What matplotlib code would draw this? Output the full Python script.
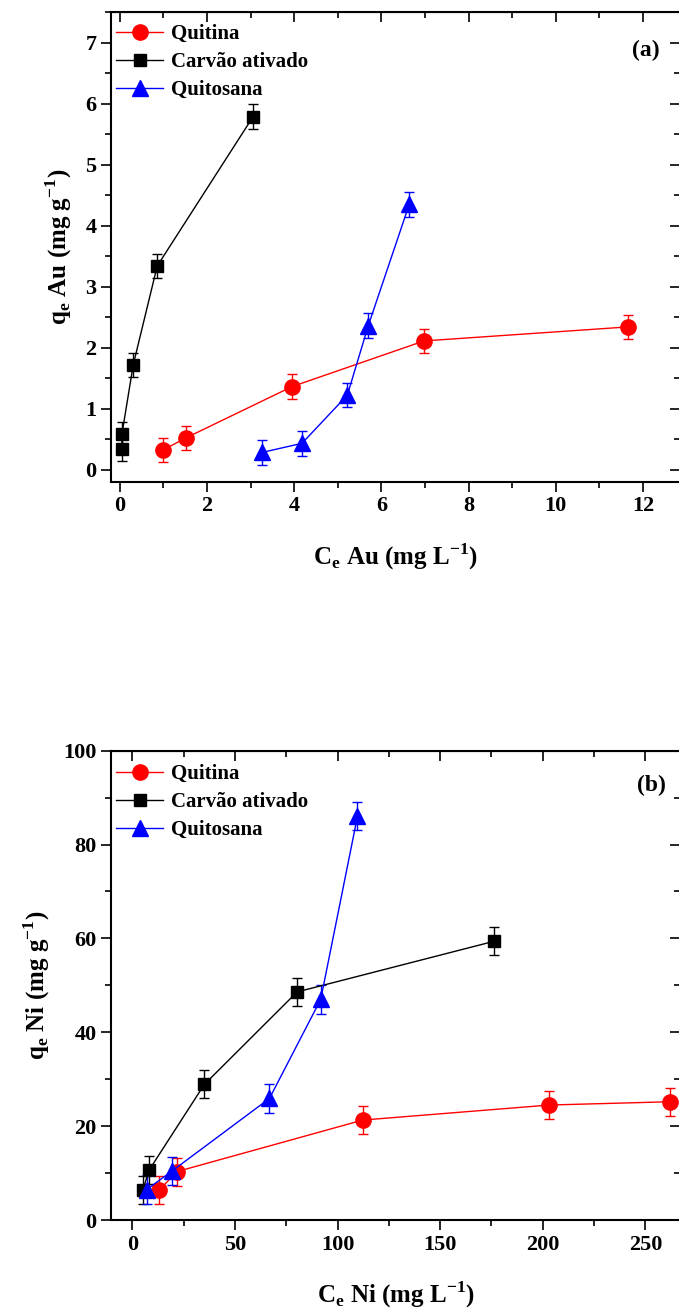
import matplotlib
matplotlib.use("Agg")
import matplotlib.pyplot as plt
from matplotlib.ticker import MultipleLocator

plt.rcParams['font.family'] = ['Liberation Serif', 'DejaVu Serif']
plt.rcParams['font.weight'] = 'bold'
plt.rcParams['axes.labelweight'] = 'bold'
plt.rcParams['mathtext.fontset'] = 'custom'
plt.rcParams['mathtext.rm'] = 'Liberation Serif:bold'

labels = ["Quitina", "Carvão ativado", "Quitosana"]
colors = ["#ff0000", "#000000", "#0000ff"]
markers = ["o", "s", "^"]
msizes = [11, 9, 11]

# (a) Au
au_x = [
    [0.99, 1.52, 3.95, 6.98, 11.66],
    [0.05, 0.05, 0.31, 0.86, 3.06],
    [3.26, 4.18, 5.22, 5.70, 6.64],
]
au_y = [
    [0.32, 0.52, 1.36, 2.11, 2.34],
    [0.34, 0.58, 1.72, 3.34, 5.79],
    [0.28, 0.43, 1.22, 2.36, 4.35],
]
au_err = [
    [0.2, 0.2, 0.2, 0.2, 0.2],
    [0.2, 0.2, 0.2, 0.2, 0.2],
    [0.2, 0.2, 0.2, 0.2, 0.2],
]

# (b) Ni
ni_x = [
    [13.2, 21.6, 112.3, 203.1, 262.0],
    [5.1, 8.1, 35.1, 80.3, 176.4],
    [7.0, 19.2, 66.8, 91.8, 109.7],
]
ni_y = [
    [6.4, 10.3, 21.3, 24.5, 25.2],
    [6.4, 10.6, 28.9, 48.6, 59.4],
    [6.5, 10.4, 25.9, 47.0, 86.0],
]
ni_err = [
    [3.0, 3.0, 3.0, 3.0, 3.0],
    [3.0, 3.0, 3.0, 3.0, 3.0],
    [3.0, 3.0, 3.0, 3.0, 3.0],
]

fig = plt.figure(figsize=(6.79, 13.13), dpi=100)
ax1 = fig.add_axes([0.1635, 0.6331, 0.838, 0.3575])
ax2 = fig.add_axes([0.1635, 0.0708, 0.838, 0.3575])


def draw(ax, xs, ys, errs):
    handles = []
    for x, y, e, c, m, ms in zip(xs, ys, errs, colors, markers, msizes):
        cont = ax.errorbar(x, y, yerr=e, color=c, marker=m, ms=ms, lw=1,
                           elinewidth=1, capsize=3.5, capthick=1)
        handles.append(cont[0])
    return handles


def style(ax, xmaj, xmin, ymaj, ymin):
    ax.xaxis.set_major_locator(MultipleLocator(xmaj))
    ax.xaxis.set_minor_locator(MultipleLocator(xmin))
    ax.yaxis.set_major_locator(MultipleLocator(ymaj))
    ax.yaxis.set_minor_locator(MultipleLocator(ymin))
    ax.tick_params(which='major', direction='out', length=7, width=1.2, labelsize=16)
    ax.tick_params(which='minor', direction='out', length=4, width=1.2)
    for s in ax.spines.values():
        s.set_linewidth(1.5)
    top = ax.secondary_xaxis('top')
    top.xaxis.set_major_locator(MultipleLocator(xmaj))
    top.xaxis.set_minor_locator(MultipleLocator(xmin))
    top.tick_params(which='major', direction='in', length=7, width=1.2, labeltop=False)
    top.tick_params(which='minor', direction='in', length=4, width=1.2)
    right = ax.secondary_yaxis('right')
    right.yaxis.set_major_locator(MultipleLocator(ymaj))
    right.yaxis.set_minor_locator(MultipleLocator(ymin))
    right.tick_params(which='major', direction='in', length=7, width=1.2, labelright=False)
    right.tick_params(which='minor', direction='in', length=4, width=1.2)


def add_legend(ax, handles, ytop):
    ax.legend(handles, labels, loc='upper left', bbox_to_anchor=(0.008, ytop),
              frameon=False, fontsize=15, handlelength=2.3, handletextpad=0.35,
              labelspacing=0.38, borderaxespad=0, borderpad=0)


h1 = draw(ax1, au_x, au_y, au_err)
ax1.set_xlim(-0.2, 12.85)
ax1.set_ylim(-0.2, 7.5)
style(ax1, 2, 1, 1, 0.5)
ax1.set_xlabel(r'C$_\mathregular{e}$ Au (mg L$^\mathregular{-1}$)', fontsize=18, labelpad=18)
ax1.set_ylabel(r'q$_\mathregular{e}$ Au (mg g$^\mathregular{-1}$)', fontsize=18, labelpad=8)
add_legend(ax1, h1, 0.975)
ax1.text(0.965, 0.918, '(a)', transform=ax1.transAxes, fontsize=17,
         ha='right', va='center')

h2 = draw(ax2, ni_x, ni_y, ni_err)
ax2.set_xlim(-10.4, 266.9)
ax2.set_ylim(0, 100)
style(ax2, 50, 25, 20, 10)
ax2.set_xlabel(r'C$_\mathregular{e}$ Ni (mg L$^\mathregular{-1}$)', fontsize=18, labelpad=18)
ax2.set_ylabel(r'q$_\mathregular{e}$ Ni (mg g$^\mathregular{-1}$)', fontsize=18, labelpad=8)
add_legend(ax2, h2, 0.971)
ax2.text(0.975, 0.925, '(b)', transform=ax2.transAxes, fontsize=17,
         ha='right', va='center')

fig.savefig("out.png", dpi=100)
